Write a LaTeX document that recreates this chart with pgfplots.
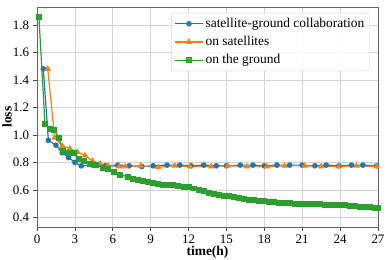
\documentclass[border=0pt]{standalone}
\usepackage{pgfplots}
\pgfplotsset{compat=1.18}
\usepackage{fontspec}
\setmainfont{Liberation Serif}
\definecolor{tblue}{HTML}{1F77B4}
\definecolor{torange}{HTML}{FF7F0E}
\definecolor{tgreen}{HTML}{2CA02C}
\begin{document}
\fontsize{13}{15}\selectfont
\begin{tikzpicture}[x=1bp,y=1bp]
\useasboundingbox (-37bp,-33bp) rectangle (353bp,227bp);
\begin{axis}[
  at={(0,0)}, anchor=south west,
  scale only axis, width=341bp, height=220bp,
  xmin=0, xmax=27, ymin=0.33, ymax=1.93,
  xtick={0,3,...,27},
  ytick={0.4,0.6,...,1.81},
  /pgf/number format/assume math mode=true,
  /pgf/number format/fixed, /pgf/number format/fixed zerofill, /pgf/number format/precision=1,
  xticklabel={\pgfmathprintnumber[fixed,precision=0]{\tick}},
  tick label style={font=\fontsize{13}{15}\selectfont},
  grid=major, major grid style={draw=black!17, line width=0.6pt},
  axis line style={draw=black!60, line width=0.8pt},
  tick style={draw=black!70, line width=0.6pt},
  tick align=outside, major tick length=3.5bp,
  xtick pos=bottom, ytick pos=left,
  xlabel={\textbf{time(h)}}, ylabel={\textbf{loss}},
  label style={font=\fontsize{13.5}{15}\selectfont},
  xlabel style={yshift=6bp},
  ylabel style={at={(axis description cs:-0.088,0.5)}, anchor=center},
  legend style={at={(0.975,0.973)}, anchor=north east, draw=black!15, rounded corners=2bp,
    fill=white, fill opacity=0.85, text opacity=1, font=\fontsize{13.5}{15}\selectfont,
    row sep=3bp, inner sep=3bp},
  legend cell align=left,
  legend image code/.code={\draw[mark repeat=2,mark phase=2,#1] plot coordinates {(0bp,0bp) (14bp,0bp) (28bp,0bp)};},
]
\addplot[tblue, line width=1.2pt, mark=*, mark size=2.2pt] coordinates {
(0.5,1.48)(0.9,0.96)(1.5,0.925)(2.0,0.87)(2.5,0.835)(3.0,0.80)(3.5,0.775)(4.4,0.78)(5.4,0.775)(6.4,0.78)(7.3,0.775)(8.3,0.77)(9.2,0.775)(10.3,0.78)(11.3,0.78)(12.2,0.775)(13.2,0.78)(14.2,0.775)(15.0,0.775)(16.1,0.78)(17.1,0.78)(18.0,0.775)(19.0,0.78)(20.0,0.78)(21.0,0.78)(22.0,0.775)(22.9,0.78)(23.9,0.775)(24.9,0.78)(25.8,0.78)(26.9,0.775)
};
\addlegendentry{satellite-ground collaboration}
\addplot[torange, line width=1.2pt, mark=triangle*, mark size=2.6pt] coordinates {
(0.85,1.48)(1.4,0.98)(2.0,0.92)(2.6,0.90)(3.2,0.875)(3.8,0.85)(4.4,0.81)(5.0,0.79)(5.6,0.775)(6.5,0.77)(7.0,0.77)(8.2,0.775)(9.6,0.765)(10.9,0.775)(12.1,0.77)(13.8,0.77)(15.1,0.775)(16.6,0.77)(18.2,0.77)(19.6,0.775)(21.2,0.775)(22.5,0.77)(23.9,0.77)(25.3,0.775)(26.9,0.77)
};
\addlegendentry{on satellites}
\addplot[tgreen, line width=1.2pt, mark=square*, mark size=2.4pt] coordinates {
(0.15,1.86)(0.63,1.08)(1.0,1.04)(1.35,1.035)(1.75,0.98)(2.05,0.88)(2.45,0.87)(2.9,0.865)(3.3,0.825)(3.7,0.81)(4.2,0.79)(4.7,0.78)(5.2,0.76)(5.6,0.75)(6.1,0.73)(6.6,0.71)
(7.2,0.693)(7.6,0.68)(8.0,0.67)(8.4,0.662)(8.8,0.655)(9.2,0.648)(9.6,0.643)(10.0,0.639)(10.4,0.635)(10.8,0.632)(11.2,0.628)(11.6,0.624)(12.0,0.618)(12.4,0.61)(12.8,0.60)(13.2,0.59)(13.6,0.58)(14.0,0.572)(14.4,0.565)(14.8,0.558)(15.2,0.552)(15.6,0.546)(16.0,0.54)(16.4,0.532)(16.8,0.527)(17.2,0.523)(17.6,0.52)(18.0,0.518)(18.4,0.515)(18.8,0.512)(19.2,0.508)(19.6,0.505)(20.0,0.503)(20.4,0.50)(20.8,0.498)(21.2,0.497)(21.6,0.496)(22.0,0.495)(22.4,0.494)(22.8,0.492)(23.2,0.491)(23.6,0.49)(24.0,0.488)(24.4,0.487)(24.8,0.485)(25.2,0.482)(25.6,0.479)(26.0,0.476)(26.4,0.472)(26.8,0.469)(27.0,0.467)
};
\addlegendentry{on the ground}
\end{axis}
\end{tikzpicture}
\end{document}
